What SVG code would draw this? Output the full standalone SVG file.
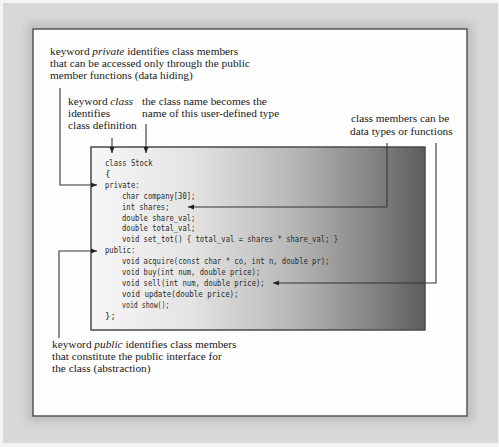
<svg xmlns="http://www.w3.org/2000/svg" width="499" height="447" viewBox="0 0 499 447">
<defs>
<linearGradient id="codeGrad" x1="0" y1="0" x2="1" y2="0">
<stop offset="0" stop-color="#f6f6f6"/>
<stop offset="0.3" stop-color="#e4e4e4"/>
<stop offset="0.6" stop-color="#b8b8b8"/>
<stop offset="0.85" stop-color="#828282"/>
<stop offset="1" stop-color="#5c5c5c"/>
</linearGradient>
<filter id="blur" x="-10%" y="-10%" width="120%" height="120%">
<feGaussianBlur stdDeviation="4"/>
</filter>
<marker id="arr" markerUnits="userSpaceOnUse" markerWidth="6" markerHeight="6" refX="6" refY="3" orient="auto">
<path d="M0,0.5 L6,3 L0,5.5 z" fill="#222"/>
</marker>
<style>
.lbl{font-family:"Liberation Serif","Times New Roman",serif;font-size:11.3px;fill:#1a1a1a}
.code{font-family:"DejaVu Sans Mono","Liberation Mono",monospace;font-size:9px;fill:#2a2a2a}
.conn{fill:none;stroke:#333;stroke-width:1.1}
</style>
</defs>
<rect x="0" y="0" width="499" height="447" fill="#f4f4f4"/>
<rect x="3" y="3" width="495" height="440" fill="#d8d8d8"/>
<rect x="27" y="23" width="446" height="399" fill="#bdbdbd" filter="url(#blur)"/>
<g id="frame">
<rect x="33" y="29" width="434" height="387" fill="#fefefe" stroke="#555" stroke-width="1.5"/>
</g>
<g id="codebox">
<rect x="91" y="147" width="334" height="183" fill="url(#codeGrad)" stroke="#4a4a4a" stroke-width="1.5"/>
<text class="code" x="105" y="166" textLength="47.5" lengthAdjust="spacingAndGlyphs">class Stock</text>
<text class="code" x="105" y="176.9">{</text>
<text class="code" x="105" y="187.8" textLength="34.6" lengthAdjust="spacingAndGlyphs">private:</text>
<text class="code" x="122" y="198.7" textLength="73.4" lengthAdjust="spacingAndGlyphs">char company[30];</text>
<text class="code" x="122" y="209.6" textLength="47.5" lengthAdjust="spacingAndGlyphs">int shares;</text>
<text class="code" x="122" y="220.5" textLength="73.4" lengthAdjust="spacingAndGlyphs">double share_val;</text>
<text class="code" x="122" y="231.4" textLength="73.4" lengthAdjust="spacingAndGlyphs">double total_val;</text>
<text class="code" x="122" y="242.3" textLength="216" lengthAdjust="spacingAndGlyphs">void set_tot() { total_val = shares * share_val; }</text>
<text class="code" x="105" y="253.2" textLength="30.2" lengthAdjust="spacingAndGlyphs">public:</text>
<text class="code" x="122" y="264.1" textLength="207.4" lengthAdjust="spacingAndGlyphs">void acquire(const char * co, int n, double pr);</text>
<text class="code" x="122" y="275" textLength="138.2" lengthAdjust="spacingAndGlyphs">void buy(int num, double price);</text>
<text class="code" x="122" y="285.9" textLength="142.6" lengthAdjust="spacingAndGlyphs">void sell(int num, double price);</text>
<text class="code" x="122" y="296.8" textLength="116.6" lengthAdjust="spacingAndGlyphs">void update(double price);</text>
<text class="code" x="122" y="307.7" textLength="47.5" lengthAdjust="spacingAndGlyphs">void show();</text>
<text class="code" x="105" y="318.6">};</text>
</g>
<g id="label-private">
<text class="lbl" x="50" y="55">keyword <tspan font-style="italic">private</tspan> identifies class members</text>
<text class="lbl" x="50" y="67">that can be accessed only through the public</text>
<text class="lbl" x="50" y="79">member functions (data hiding)</text>
</g>
<g id="label-class">
<text class="lbl" x="68" y="105">keyword <tspan font-style="italic">class</tspan></text>
<text class="lbl" x="68" y="117">identifies</text>
<text class="lbl" x="68" y="129">class definition</text>
</g>
<g id="label-name">
<text class="lbl" x="142" y="105">the class name becomes the</text>
<text class="lbl" x="142" y="117">name of this user-defined type</text>
</g>
<g id="label-members">
<text class="lbl" x="351" y="122">class members can be</text>
<text class="lbl" x="350" y="135">data types or functions</text>
</g>
<g id="label-public">
<text class="lbl" x="52" y="348">keyword <tspan font-style="italic">public</tspan> identifies class members</text>
<text class="lbl" x="52" y="360">that constitute the public interface for</text>
<text class="lbl" x="52" y="372">the class (abstraction)</text>
</g>
<g id="connectors">
<path class="conn" d="M60,88 V185 H97" marker-end="url(#arr)"/>
<path class="conn" d="M112,138 V153" marker-end="url(#arr)"/>
<path class="conn" d="M146,124 V153" marker-end="url(#arr)"/>
<path class="conn" d="M387,143 V207 H188" marker-end="url(#arr)"/>
<path class="conn" d="M436,143 V283 H273" marker-end="url(#arr)"/>
<path class="conn" d="M59,338 V251 H97" marker-end="url(#arr)"/>
</g>
</svg>
